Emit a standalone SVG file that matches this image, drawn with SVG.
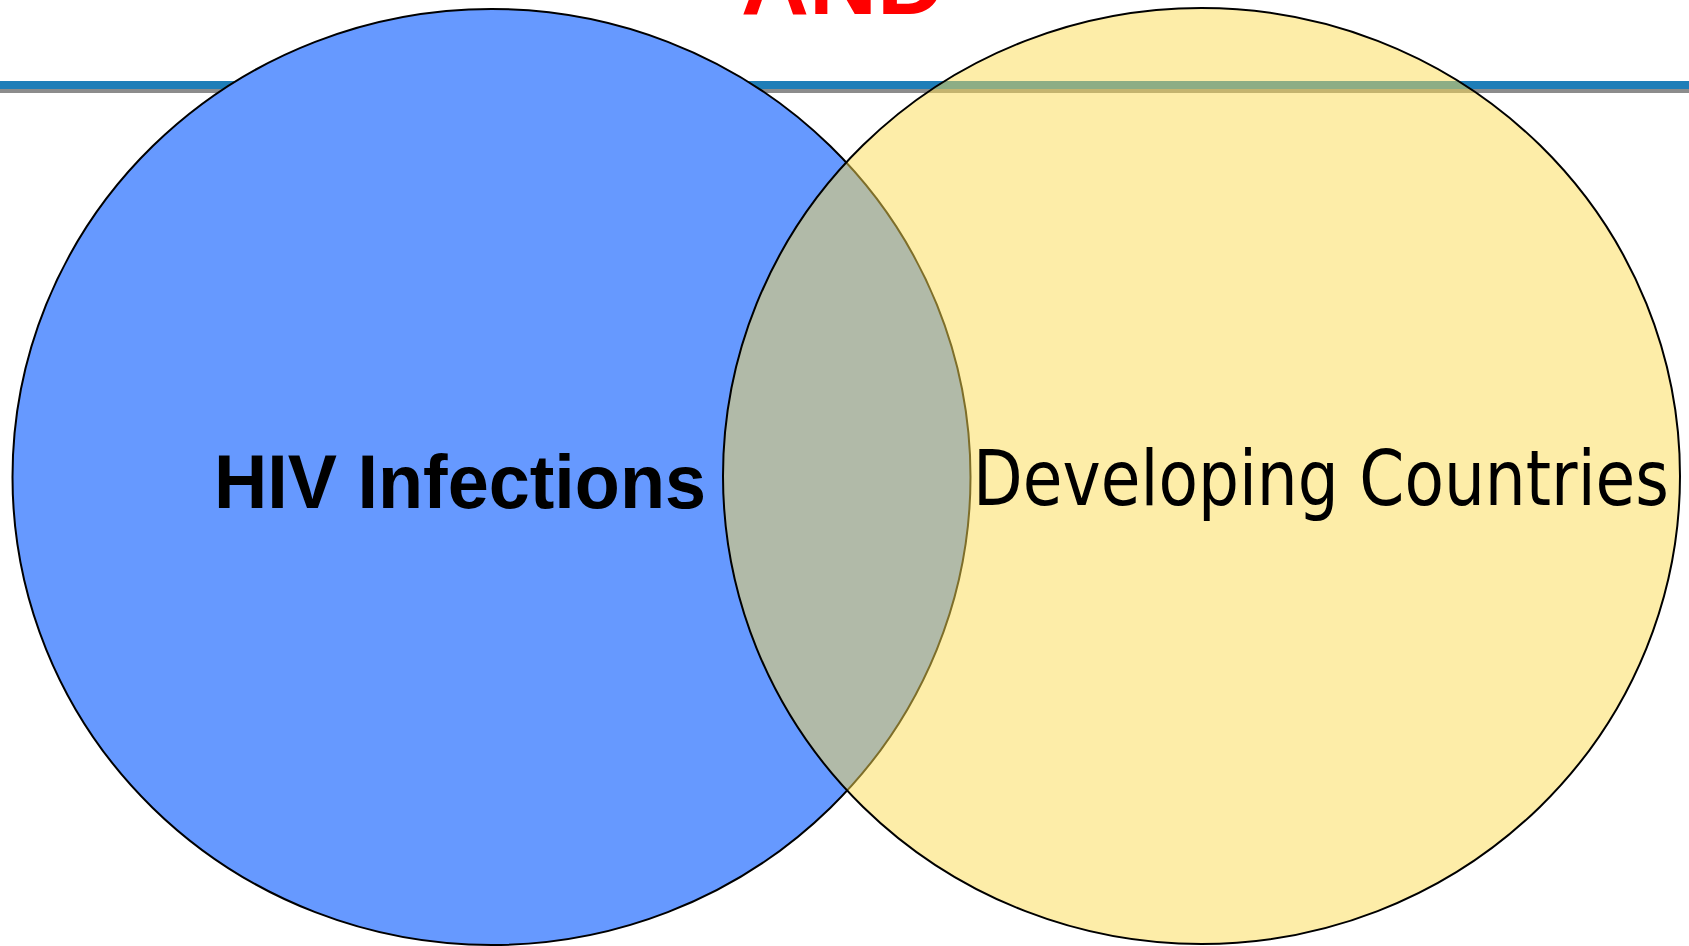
<svg xmlns="http://www.w3.org/2000/svg" width="1689" height="946" viewBox="0 0 1689 946">
<style>
.set{stroke:#000;stroke-width:2}
.lbl{fill:#000}
</style>
<rect x="0" y="0" width="1689" height="946" fill="#fff"/>
<g id="title">
<text x="741" y="13.5" font-family="Liberation Sans, Arial, sans-serif" font-weight="bold" font-size="92" fill="#ff0000" textLength="204" lengthAdjust="spacingAndGlyphs">AND</text>
</g>
<g id="rule">
<rect x="0" y="81" width="1689" height="8" fill="#1f7eb8"/>
<rect x="0" y="89" width="1689" height="4" fill="#8c8c8c"/>
</g>
<g id="hiv">
<ellipse class="set" cx="491.5" cy="477" rx="479" ry="468" fill="#6699ff"/>
</g>
<g id="developing">
<ellipse class="set" cx="1201.5" cy="476" rx="478.5" ry="468" fill="#fbdb51" fill-opacity="0.5"/>
</g>
<g id="labels">
<text class="lbl" x="214" y="508" font-family="Liberation Sans, Arial, sans-serif" font-weight="bold" font-size="76" textLength="492" lengthAdjust="spacingAndGlyphs">HIV Infections</text>
<text class="lbl" x="973" y="505" font-family="DejaVu Sans, Verdana, sans-serif" font-size="76" textLength="696" lengthAdjust="spacingAndGlyphs">Developing Countries</text>
</g>
<g id="connectors"/>
</svg>
